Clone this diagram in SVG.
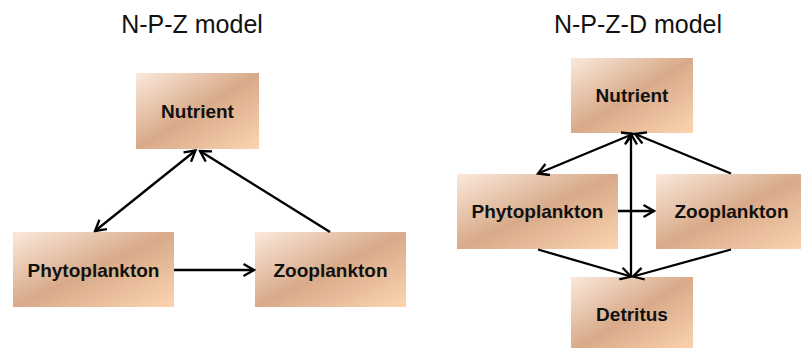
<svg xmlns="http://www.w3.org/2000/svg" width="801" height="348" viewBox="0 0 801 348">
<style>
.box{fill:url(#g);}
.lbl{font-family:"Liberation Sans",Arial,sans-serif;font-size:19px;font-weight:bold;fill:#111;text-anchor:middle;}
.ttl{font-family:"Liberation Sans",Arial,sans-serif;font-size:25px;fill:#111;text-anchor:middle;}
.c line{stroke:#000;stroke-width:2.3;fill:none;}
</style>
<defs>
<linearGradient id="g" x1="0" y1="0" x2="1" y2="1">
<stop offset="0" stop-color="#fbe9dc"/>
<stop offset="0.5" stop-color="#d8aa89"/>
<stop offset="1" stop-color="#fdd4b0"/>
</linearGradient>
<marker id="a" markerUnits="userSpaceOnUse" markerWidth="14" markerHeight="14" viewBox="-1 -1 13 14" refX="10.5" refY="6" orient="auto-start-reverse">
<path d="M0,0 L10.5,6 L0,12" fill="none" stroke="#000" stroke-width="2.3"/>
</marker>
</defs>
<rect width="801" height="348" fill="#fff"/>
<text class="ttl" x="192" y="33">N-P-Z model</text>
<text class="ttl" x="638" y="33">N-P-Z-D model</text>

<g id="npz-nutrient"><rect class="box" x="136" y="73" width="123" height="76"/><text class="lbl" x="197.5" y="118">Nutrient</text></g>
<g id="npz-phyto"><rect class="box" x="13" y="232" width="161" height="75"/><text class="lbl" x="93.5" y="277">Phytoplankton</text></g>
<g id="npz-zoo"><rect class="box" x="255" y="232" width="151" height="75"/><text class="lbl" x="330.5" y="277">Zooplankton</text></g>

<g id="npzd-nutrient"><rect class="box" x="571" y="58" width="122" height="75"/><text class="lbl" x="632" y="102">Nutrient</text></g>
<g id="npzd-phyto"><rect class="box" x="457" y="174" width="161" height="75"/><text class="lbl" x="537.5" y="218">Phytoplankton</text></g>
<g id="npzd-zoo"><rect class="box" x="656" y="174" width="151" height="75"/><text class="lbl" x="731.5" y="218">Zooplankton</text></g>
<g id="npzd-detritus"><rect class="box" x="571" y="277" width="122" height="75"/><text class="lbl" x="632" y="321">Detritus</text></g>

<g class="c" id="connectors">
<line x1="195.5" y1="150.5" x2="95" y2="231" marker-start="url(#a)" marker-end="url(#a)"/>
<line x1="330" y1="232" x2="200" y2="151" marker-end="url(#a)"/>
<line x1="174" y1="270" x2="254" y2="270" marker-end="url(#a)"/>
<line x1="633" y1="134" x2="538" y2="173.5" marker-start="url(#a)" marker-end="url(#a)"/>
<line x1="731" y1="173.5" x2="635" y2="134" marker-end="url(#a)"/>
<line x1="631" y1="276.5" x2="631" y2="134" marker-end="url(#a)"/>
<line x1="618" y1="211" x2="654" y2="211" marker-end="url(#a)"/>
<line x1="538" y1="249.5" x2="631" y2="276.5" marker-end="url(#a)"/>
<line x1="731" y1="249.5" x2="633" y2="276.5" marker-end="url(#a)"/>
</g>
</svg>
